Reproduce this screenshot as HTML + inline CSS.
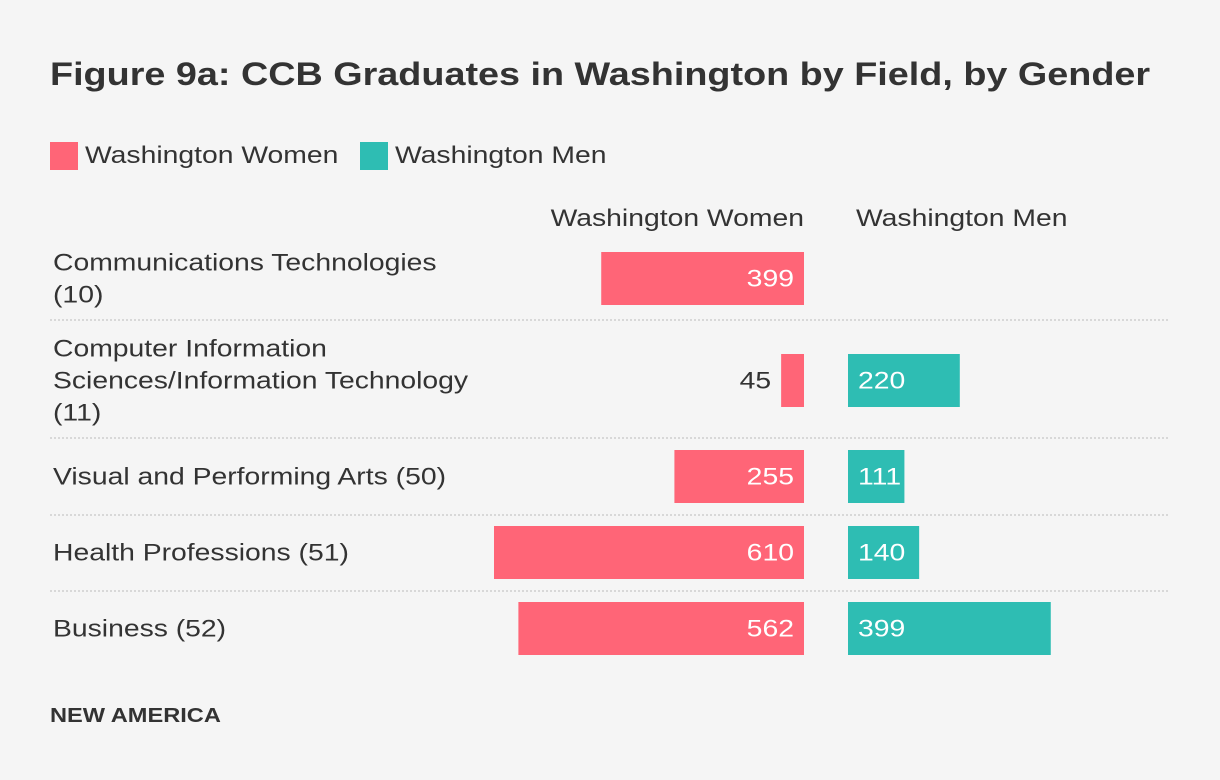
<!DOCTYPE html>
<html><head><meta charset="utf-8"><style>
body{margin:0;background:#f5f5f5;}
svg{display:block;font-family:"Liberation Sans",sans-serif;}
</style></head><body>
<svg id="chart" width="1220" height="780">
<rect width="1220" height="780" fill="#f5f5f5"/>
<text x="50" y="85" font-size="32" font-weight="bold" fill="#333">Figure 9a: CCB Graduates in Washington by Field, by Gender</text>
<g>
<rect x="50" y="142" width="28" height="28" fill="#ff6577"/>
<text x="85" y="163" font-size="24" fill="#333">Washington Women</text>
<rect x="360" y="142" width="28" height="28" fill="#2ebdb3"/>
<text x="395" y="163" font-size="24" fill="#333">Washington Men</text>
</g>
<text x="804" y="226" font-size="24" fill="#333" text-anchor="end">Washington Women</text>
<text x="856" y="226" font-size="24" fill="#333">Washington Men</text>
<g id="rows"></g>
<text x="50" y="722" font-size="20" font-weight="bold" fill="#333">NEW AMERICA</text>
</svg>
<script>
const categories = [["Communications Technologies","(10)"],["Computer Information","Sciences/Information Technology","(11)"],["Visual and Performing Arts (50)"],["Health Professions (51)"],["Business (52)"]];
const womenValues = [399,45,255,610,562];
const menValues = [0,220,111,140,399];

const ns="http://www.w3.org/2000/svg";
const g=document.getElementById('rows');
const rowTops=[252,354,450,526,602], barH=53, seps=[320,438,515,591];
const zeroW=804, zeroM=848, k=310/610;
function xw(v){return zeroW - v*k;}
function xm(v){return zeroM + v*k;}
function mk(tag,attrs){const e=document.createElementNS(ns,tag);for(const a in attrs)e.setAttribute(a,attrs[a]);g.appendChild(e);return e;}
seps.forEach((y)=>{
  const l=mk('line',{x1:50,x2:1168,y1:y,y2:y,stroke:'#bbb','stroke-dasharray':'2,2'});
  
  
});
categories.forEach((lines,i)=>{
  const cy=rowTops[i]+barH/2;
  const n=lines.length, lh=32;
  lines.forEach((s,j)=>{
    const t=mk('text',{x:53,y:cy+8+(j-(n-1)/2)*lh,'font-size':24,fill:'#333'});
    t.textContent=s;
    
    
  });
  const w=womenValues[i];
  if(w>0){
    const r=mk('rect',{x:xw(w),y:rowTops[i],width:zeroW-xw(w),height:barH,fill:'#ff6577'});
    
    
    const inside=(zeroW-xw(w))>60;
    const t=mk('text',{x:inside?zeroW-10:xw(w)-10,y:cy+8,'font-size':24,fill:inside?'#fff':'#333','text-anchor':'end'});
    t.textContent=w;
    
    
  }
  const m=menValues[i];
  if(m>0){
    const r=mk('rect',{x:zeroM,y:rowTops[i],width:xm(m)-zeroM,height:barH,fill:'#2ebdb3'});
    
    
    const t=mk('text',{x:zeroM+10,y:cy+8,'font-size':24,fill:'#fff'});
    t.textContent=m;
    
    
  }
});
// widen text to match the reference font's metrics
document.querySelectorAll('#chart text').forEach(t=>{
  const len=t.getComputedTextLength();
  t.setAttribute('textLength',(len*1.18).toFixed(1));
  t.setAttribute('lengthAdjust','spacingAndGlyphs');
});
</script>
</body></html>
